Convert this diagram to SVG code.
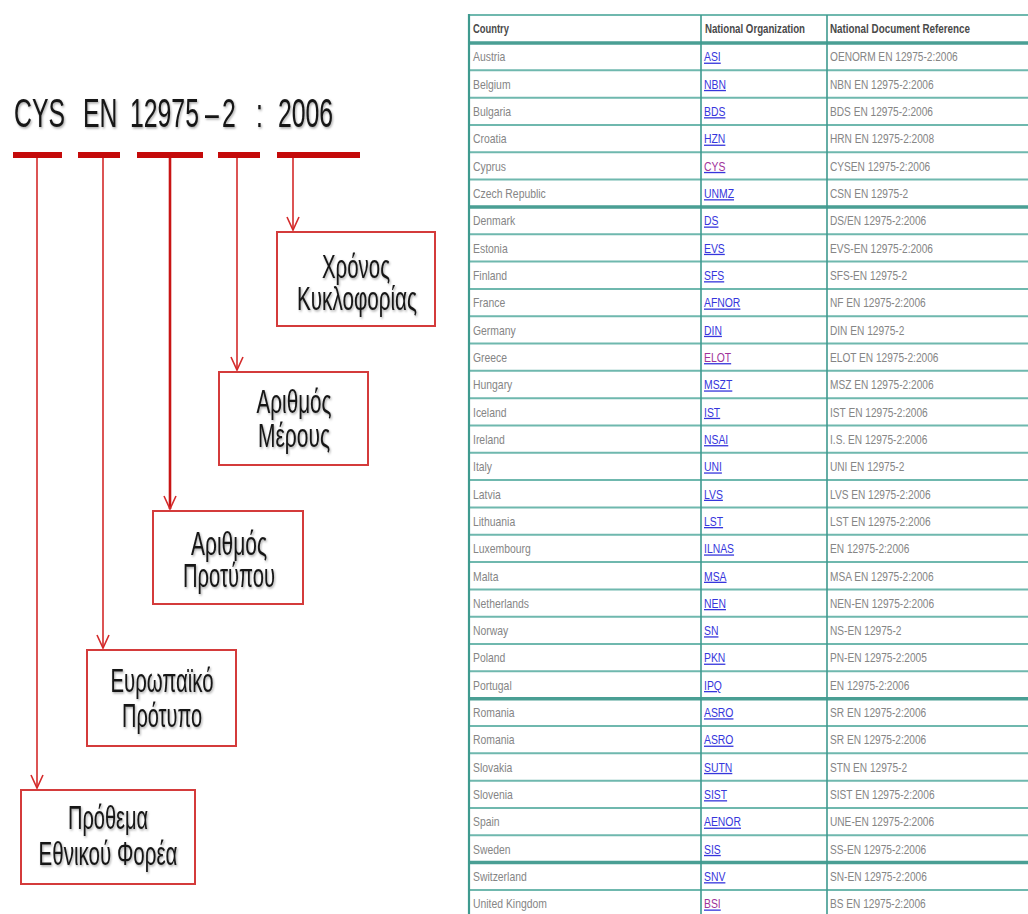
<svg xmlns="http://www.w3.org/2000/svg" width="1028" height="914" viewBox="0 0 1028 914">
<defs>
<style>
.ttl{font-family:"Liberation Sans",Arial,sans-serif;font-size:40px;fill:#151515;}
.bx{fill:#fff;stroke:#d43b3b;stroke-width:2;}
.bt{font-family:"Liberation Sans",Arial,sans-serif;font-size:34px;fill:#151515;text-anchor:middle;}
.bar{fill:#c40a0a;}
.con{stroke:#d42a2a;stroke-width:1.6;fill:none;}
.con2{stroke:#c81414;stroke-width:2.6;fill:none;}
.tl{stroke:#6fb8ae;stroke-width:2;fill:none;}
.tlk{stroke:#4a9f94;stroke-width:3.5;fill:none;}
.tv{stroke:#3f9a8f;stroke-width:1.6;fill:none;}
.hd{font-family:"Liberation Sans",Arial,sans-serif;font-size:12px;font-weight:bold;fill:#4a4a4a;}
.c{font-family:"Liberation Sans",Arial,sans-serif;font-size:13px;fill:#858585;}
.o{font-family:"Liberation Sans",Arial,sans-serif;font-size:13px;fill:#3636dc;text-decoration:underline;}
.v{fill:#a0329a;}
</style>
<marker id="ah" viewBox="-14 -8 16 16" refX="0" refY="0" markerWidth="16" markerHeight="16" markerUnits="userSpaceOnUse" orient="auto" overflow="visible">
<path d="M-13,-6 L0,0 L-13,6" fill="none" stroke="#d42a2a" stroke-width="1.6"/>
</marker>
<filter id="sh" x="-10%" y="-10%" width="130%" height="140%">
<feDropShadow dx="1" dy="1.5" stdDeviation="1" flood-color="#000" flood-opacity="0.35"/>
</filter>
</defs>
<rect width="1028" height="914" fill="#fff"/>

<g id="title" filter="url(#sh)">
<text class="ttl" transform="translate(0,127) scale(0.62,1)"><tspan x="22.6" y="0">CYS</tspan><tspan x="133.9" y="0">EN</tspan><tspan x="209.7" y="0">12975</tspan><tspan x="330.6" y="0">–</tspan><tspan x="358.1" y="0">2</tspan><tspan x="412.9" y="0">:</tspan><tspan x="448.4" y="0">2006</tspan></text>
</g>

<g id="bars">
<rect class="bar" x="13" y="152" width="49" height="6"/>
<rect class="bar" x="78" y="152" width="42" height="6"/>
<rect class="bar" x="137" y="152" width="66" height="6"/>
<rect class="bar" x="218" y="152" width="42" height="6"/>
<rect class="bar" x="277" y="152" width="83" height="6"/>
</g>

<g id="connectors">
<line class="con" x1="37" y1="158" x2="37" y2="788" marker-end="url(#ah)"/>
<line class="con" x1="103" y1="158" x2="103" y2="648" marker-end="url(#ah)"/>
<line class="con2" x1="170" y1="158" x2="170" y2="509" marker-end="url(#ah)"/>
<line class="con" x1="237" y1="158" x2="237" y2="370" marker-end="url(#ah)"/>
<line class="con" x1="293" y1="158" x2="293" y2="230" marker-end="url(#ah)"/>
</g>

<g id="node-year">
<rect class="bx" x="277" y="232" width="158" height="94"/>
<text class="bt" x="356" y="278" textLength="68" lengthAdjust="spacingAndGlyphs" filter="url(#sh)">Χρόνος</text>
<text class="bt" x="357" y="310" textLength="120" lengthAdjust="spacingAndGlyphs" filter="url(#sh)">Κυκλοφορίας</text>
</g>
<g id="node-part">
<rect class="bx" x="219" y="372" width="149" height="93"/>
<text class="bt" x="294" y="413" textLength="75" lengthAdjust="spacingAndGlyphs" filter="url(#sh)">Αριθμός</text>
<text class="bt" x="294" y="447" textLength="72" lengthAdjust="spacingAndGlyphs" filter="url(#sh)">Μέρους</text>
</g>
<g id="node-number">
<rect class="bx" x="153" y="511" width="150" height="93"/>
<text class="bt" x="229" y="555" textLength="76" lengthAdjust="spacingAndGlyphs" filter="url(#sh)">Αριθμός</text>
<text class="bt" x="229" y="587" textLength="92" lengthAdjust="spacingAndGlyphs" filter="url(#sh)">Προτύπου</text>
</g>
<g id="node-european">
<rect class="bx" x="87" y="650" width="149" height="96"/>
<text class="bt" x="162" y="692" textLength="103" lengthAdjust="spacingAndGlyphs" filter="url(#sh)">Ευρωπαϊκό</text>
<text class="bt" x="162" y="727" textLength="80" lengthAdjust="spacingAndGlyphs" filter="url(#sh)">Πρότυπο</text>
</g>
<g id="node-prefix">
<rect class="bx" x="21" y="790" width="174" height="94"/>
<text class="bt" x="108" y="829" textLength="80" lengthAdjust="spacingAndGlyphs" filter="url(#sh)">Πρόθεμα</text>
<text class="bt" x="108" y="865" textLength="139" lengthAdjust="spacingAndGlyphs" filter="url(#sh)">Εθνικού Φορέα</text>
</g>

<g id="table">
<path class="tl" d="M469,15H1040 M469,70.32H1040 M469,97.64H1040 M469,124.96H1040 M469,152.28H1040 M469,179.6H1040 M469,234.24H1040 M469,261.56H1040 M469,288.88H1040 M469,316.2H1040 M469,343.52H1040 M469,370.84H1040 M469,398.16H1040 M469,425.48H1040 M469,452.8H1040 M469,480.12H1040 M469,507.44H1040 M469,534.76H1040 M469,562.08H1040 M469,589.4H1040 M469,616.72H1040 M469,644.04H1040 M469,671.36H1040 M469,726H1040 M469,753.32H1040 M469,780.64H1040 M469,807.96H1040 M469,835.28H1040 M469,889.92H1040"/>
<path class="tlk" d="M469,43H1040 M469,206.92H1040 M469,698.68H1040 M469,862.6H1040"/>
<path class="tv" d="M701,15V914 M827,15V914"/>
<path d="M469,14V914" stroke="#3f9a8f" stroke-width="2.2"/>

<text class="hd" x="473" y="33" textLength="36" lengthAdjust="spacingAndGlyphs">Country</text>
<text class="hd" x="705" y="33" textLength="100" lengthAdjust="spacingAndGlyphs">National Organization</text>
<text class="hd" x="830" y="33" textLength="140" lengthAdjust="spacingAndGlyphs">National Document Reference</text>

<g transform="translate(473,0) scale(0.8,1)" class="c">
<text y="61.5">Austria</text>
<text y="88.8">Belgium</text>
<text y="116.1">Bulgaria</text>
<text y="143.5">Croatia</text>
<text y="170.8">Cyprus</text>
<text y="198.1">Czech Republic</text>
<text y="225.4">Denmark</text>
<text y="252.7">Estonia</text>
<text y="280.1">Finland</text>
<text y="307.4">France</text>
<text y="334.7">Germany</text>
<text y="362">Greece</text>
<text y="389.3">Hungary</text>
<text y="416.7">Iceland</text>
<text y="444">Ireland</text>
<text y="471.3">Italy</text>
<text y="498.6">Latvia</text>
<text y="525.9">Lithuania</text>
<text y="553.3">Luxembourg</text>
<text y="580.6">Malta</text>
<text y="607.9">Netherlands</text>
<text y="635.2">Norway</text>
<text y="662.5">Poland</text>
<text y="689.9">Portugal</text>
<text y="717.2">Romania</text>
<text y="744.5">Romania</text>
<text y="771.8">Slovakia</text>
<text y="799.1">Slovenia</text>
<text y="826.5">Spain</text>
<text y="853.8">Sweden</text>
<text y="881.1">Switzerland</text>
<text y="908.4">United Kingdom</text>
</g>

<g transform="translate(704,0) scale(0.8,1)" class="o">
<text y="61.5">ASI</text>
<text y="88.8">NBN</text>
<text y="116.1">BDS</text>
<text y="143.5">HZN</text>
<text y="170.8" class="v">CYS</text>
<text y="198.1">UNMZ</text>
<text y="225.4">DS</text>
<text y="252.7">EVS</text>
<text y="280.1">SFS</text>
<text y="307.4">AFNOR</text>
<text y="334.7">DIN</text>
<text y="362" class="v">ELOT</text>
<text y="389.3">MSZT</text>
<text y="416.7">IST</text>
<text y="444">NSAI</text>
<text y="471.3">UNI</text>
<text y="498.6">LVS</text>
<text y="525.9">LST</text>
<text y="553.3">ILNAS</text>
<text y="580.6">MSA</text>
<text y="607.9">NEN</text>
<text y="635.2">SN</text>
<text y="662.5">PKN</text>
<text y="689.9">IPQ</text>
<text y="717.2">ASRO</text>
<text y="744.5">ASRO</text>
<text y="771.8">SUTN</text>
<text y="799.1">SIST</text>
<text y="826.5">AENOR</text>
<text y="853.8">SIS</text>
<text y="881.1">SNV</text>
<text y="908.4" class="v">BSI</text>
</g>

<g transform="translate(830,0) scale(0.78,1)" class="c">
<text y="61.5">OENORM EN 12975-2:2006</text>
<text y="88.8">NBN EN 12975-2:2006</text>
<text y="116.1">BDS EN 12975-2:2006</text>
<text y="143.5">HRN EN 12975-2:2008</text>
<text y="170.8">CYSEN 12975-2:2006</text>
<text y="198.1">CSN EN 12975-2</text>
<text y="225.4">DS/EN 12975-2:2006</text>
<text y="252.7">EVS-EN 12975-2:2006</text>
<text y="280.1">SFS-EN 12975-2</text>
<text y="307.4">NF EN 12975-2:2006</text>
<text y="334.7">DIN EN 12975-2</text>
<text y="362">ELOT EN 12975-2:2006</text>
<text y="389.3">MSZ EN 12975-2:2006</text>
<text y="416.7">IST EN 12975-2:2006</text>
<text y="444">I.S. EN 12975-2:2006</text>
<text y="471.3">UNI EN 12975-2</text>
<text y="498.6">LVS EN 12975-2:2006</text>
<text y="525.9">LST EN 12975-2:2006</text>
<text y="553.3">EN 12975-2:2006</text>
<text y="580.6">MSA EN 12975-2:2006</text>
<text y="607.9">NEN-EN 12975-2:2006</text>
<text y="635.2">NS-EN 12975-2</text>
<text y="662.5">PN-EN 12975-2:2005</text>
<text y="689.9">EN 12975-2:2006</text>
<text y="717.2">SR EN 12975-2:2006</text>
<text y="744.5">SR EN 12975-2:2006</text>
<text y="771.8">STN EN 12975-2</text>
<text y="799.1">SIST EN 12975-2:2006</text>
<text y="826.5">UNE-EN 12975-2:2006</text>
<text y="853.8">SS-EN 12975-2:2006</text>
<text y="881.1">SN-EN 12975-2:2006</text>
<text y="908.4">BS EN 12975-2:2006</text>
</g>
</g>
</svg>
